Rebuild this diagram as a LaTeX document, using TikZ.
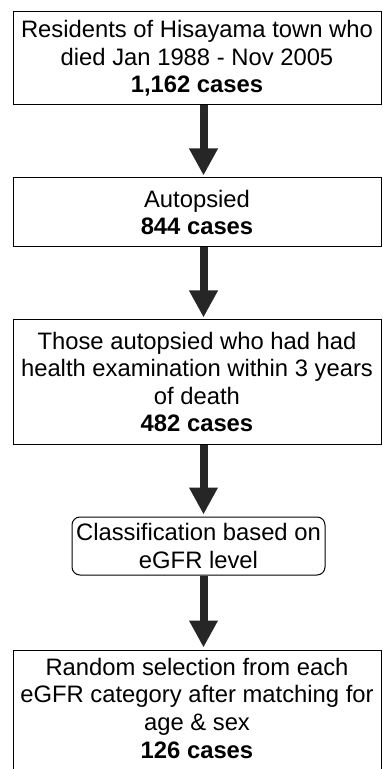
\documentclass[tikz,border=0pt]{standalone}
\usepackage{fontspec}
\setmainfont{Liberation Sans}
\usetikzlibrary{arrows.meta, positioning, calc}

\begin{document}
\begin{tikzpicture}[
    x=0.5pt, y=-0.5pt,
    box/.style={draw=black, rectangle, line width=0.5pt, inner sep=0pt,
                minimum width=184pt, align=center,
                font=\fontsize{11.9}{13.8}\selectfont},
    roundbox/.style={box, rounded corners=4pt, minimum width=126.5pt},
    flow/.style={-{Triangle[width=13.5pt, length=13.5pt]}, line width=4pt,
                draw=black!85, shorten >=1pt}
]

%% ---- picture frame ----
\clip (0,0) rectangle (383,769);

%% ---- column of boxes ----
\node [box, minimum height=46.5pt] (died)     at (197, 58.5)  {Residents of Hisayama town who\\died Jan 1988 - Nov 2005\\\textbf{1,162 cases}};
\node [box, minimum height=34.5pt] (autopsy)  at (197, 212.5) {Autopsied\\\textbf{844 cases}};
\node [box, minimum height=62pt]   (exam)     at (197, 382)   {Those autopsied who had had\\health examination within 3 years\\of death\\\textbf{482 cases}};
\node [roundbox, minimum height=29pt] (classify) at (198.5, 546) {Classification based on\\eGFR level};
\node [box, minimum height=64pt, text depth=6pt] (select) at (197, 714) {Random selection from each\\eGFR category after matching for\\age \& sex\\\textbf{126 cases}};

%% ---- arrow axis ----
\coordinate (axis) at (203.5, 0);

%% ---- arrows (top-to-bottom) ----
\draw [flow] (died.south -| axis)     -- (autopsy.north -| axis);
\draw [flow] (autopsy.south -| axis)  -- (exam.north -| axis);
\draw [flow] (exam.south -| axis)     -- (classify.north -| axis);
\draw [flow] (classify.south -| axis) -- (select.north -| axis);

\end{tikzpicture}
\end{document}
